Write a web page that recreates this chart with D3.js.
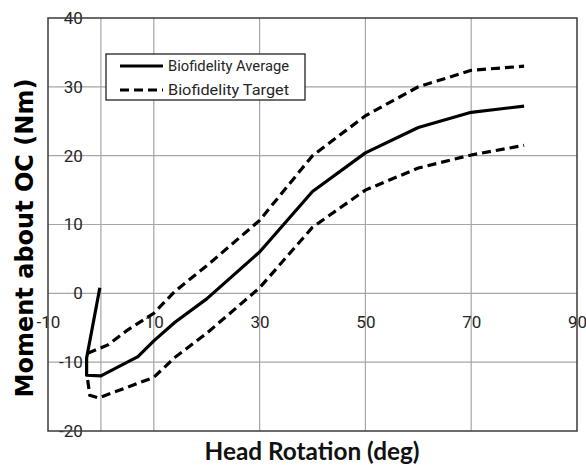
<!DOCTYPE html>
<html>
<head>
<meta charset="utf-8">
<script src="https://cdn.jsdelivr.net/npm/d3@7"></script>
<style>
  html, body { margin: 0; padding: 0; background: #fff; }
  svg { display: block; }
</style>
</head>
<body>
<svg id="chart" width="586" height="469"></svg>
<script>
// ---- data ----
const averageX = [-0.2, -2.7, -2.7, 0, 7, 10, 14, 20, 30, 40, 50, 60, 70, 80];
const averageY = [0.8, -9.4, -11.9, -12, -9.2, -6.9, -4.2, -0.8, 6, 14.8, 20.4, 24.1, 26.3, 27.2];

const upperX = [-2.5, 1.3, 5.1, 10, 14, 20, 30, 40, 50, 60, 70, 80];
const upperY = [-8.7, -7.5, -5.3, -2.9, 0.3, 4, 10.6, 20, 25.8, 30, 32.4, 33];

const lowerX = [-2.5, -2.1, -0.5, 4.5, 10, 14, 20, 30, 40, 50, 60, 70, 80];
const lowerY = [-12.6, -14.8, -15.2, -13.8, -12.2, -9.3, -5.8, 0.8, 9.6, 15, 18.2, 20.1, 21.5];

const xTicks = [-10, 10, 30, 50, 70, 90];
const yTicks = [-20, -10, 0, 10, 20, 30, 40];
const xGrid = [0, 10, 30, 50, 70];
const yGrid = [-10, 0, 10, 20, 30];

const seriesNames = ["Biofidelity Average", "Biofidelity Target"];
const xTitle = "Head Rotation (deg)";
const yTitle = "Moment about OC (Nm)";

// ---- layout ----
const svg = d3.select("#chart");
const pLeft = 48, pRight = 577, pTop = 18, pBottom = 431;

const x = d3.scaleLinear().domain([-10, 90]).range([pLeft, pRight]);
const y = d3.scaleLinear().domain([-20, 40]).range([pBottom, pTop]);

const gridColor = "#a6a6a6";
const tickFont = "Roboto, 'Open Sans', sans-serif";
const fmt = d => String(d);

// gridlines
svg.append("g").selectAll("line").data(xGrid).join("line")
  .attr("x1", d => x(d)).attr("x2", d => x(d))
  .attr("y1", pTop).attr("y2", pBottom)
  .attr("stroke", gridColor).attr("stroke-width", 1.2);

svg.append("g").selectAll("line").data(yGrid).join("line")
  .attr("x1", pLeft).attr("x2", pRight)
  .attr("y1", d => y(d)).attr("y2", d => y(d))
  .attr("stroke", gridColor).attr("stroke-width", 1.2);

// axes (labels only, placed at the zero lines)
const yAxis = d3.axisLeft(y).tickValues(yTicks).tickSize(0).tickPadding(18).tickFormat(fmt);
const yg = svg.append("g").attr("transform", `translate(${x(0)},0)`).call(yAxis);
yg.select(".domain").remove();
yg.selectAll("text").attr("font-family", tickFont).attr("font-size", 17).attr("fill", "#262626");

const xAxis = d3.axisBottom(x).tickValues(xTicks).tickSize(0).tickPadding(23).tickFormat(fmt);
const xg = svg.append("g").attr("transform", `translate(0,${y(0)})`).call(xAxis);
xg.select(".domain").remove();
xg.selectAll("text").attr("font-family", tickFont).attr("font-size", 17).attr("fill", "#262626");

// plot border (drawn over the tick labels, as in the reference)
svg.append("rect")
  .attr("x", pLeft).attr("y", pTop)
  .attr("width", pRight - pLeft).attr("height", pBottom - pTop)
  .attr("fill", "none").attr("stroke", "#3a3a3a").attr("stroke-width", 1.5);

// lines
const line = d3.line().x(d => x(d[0])).y(d => y(d[1])).curve(d3.curveLinear);
const zip = (xs, ys) => xs.map((v, i) => [v, ys[i]]);

svg.append("path").datum(zip(upperX, upperY)).attr("d", line)
  .attr("fill", "none").attr("stroke", "#000").attr("stroke-width", 3.2)
  .attr("stroke-dasharray", "9,5");
svg.append("path").datum(zip(lowerX, lowerY)).attr("d", line)
  .attr("fill", "none").attr("stroke", "#000").attr("stroke-width", 3.2)
  .attr("stroke-dasharray", "9,5");
svg.append("path").datum(zip(averageX, averageY)).attr("d", line)
  .attr("fill", "none").attr("stroke", "#000").attr("stroke-width", 3.2)
  .attr("stroke-linejoin", "round");

// legend
const lg = svg.append("g");
lg.append("rect").attr("x", 106).attr("y", 54).attr("width", 199).attr("height", 46)
  .attr("fill", "#fff").attr("stroke", "#222").attr("stroke-width", 1.3);
const legendRows = [66, 90];
seriesNames.forEach((name, i) => {
  lg.append("line")
    .attr("x1", 120).attr("x2", 163)
    .attr("y1", legendRows[i]).attr("y2", legendRows[i])
    .attr("stroke", "#000").attr("stroke-width", 3.2)
    .attr("stroke-dasharray", i === 0 ? null : "9,5");
  lg.append("text")
    .attr("x", 168).attr("y", legendRows[i]).attr("dy", "0.35em")
    .attr("font-family", tickFont).attr("font-size", 14).attr("fill", "#262626")
    .attr("textLength", 121).attr("lengthAdjust", "spacingAndGlyphs")
    .text(name);
});

// axis titles
svg.append("text")
  .attr("x", 312).attr("y", 460)
  .attr("text-anchor", "middle")
  .attr("font-family", "Lato, 'Open Sans', sans-serif").attr("font-weight", "bold")
  .attr("font-size", 24).attr("fill", "#111")
  .attr("textLength", 215).attr("lengthAdjust", "spacingAndGlyphs")
  .text(xTitle);

svg.append("text")
  .attr("transform", "translate(33,238) rotate(-90)")
  .attr("text-anchor", "middle")
  .attr("font-family", "'DejaVu Sans', sans-serif").attr("font-weight", "bold")
  .attr("font-size", 24).attr("fill", "#000")
  .text(yTitle);
</script>
</body>
</html>
